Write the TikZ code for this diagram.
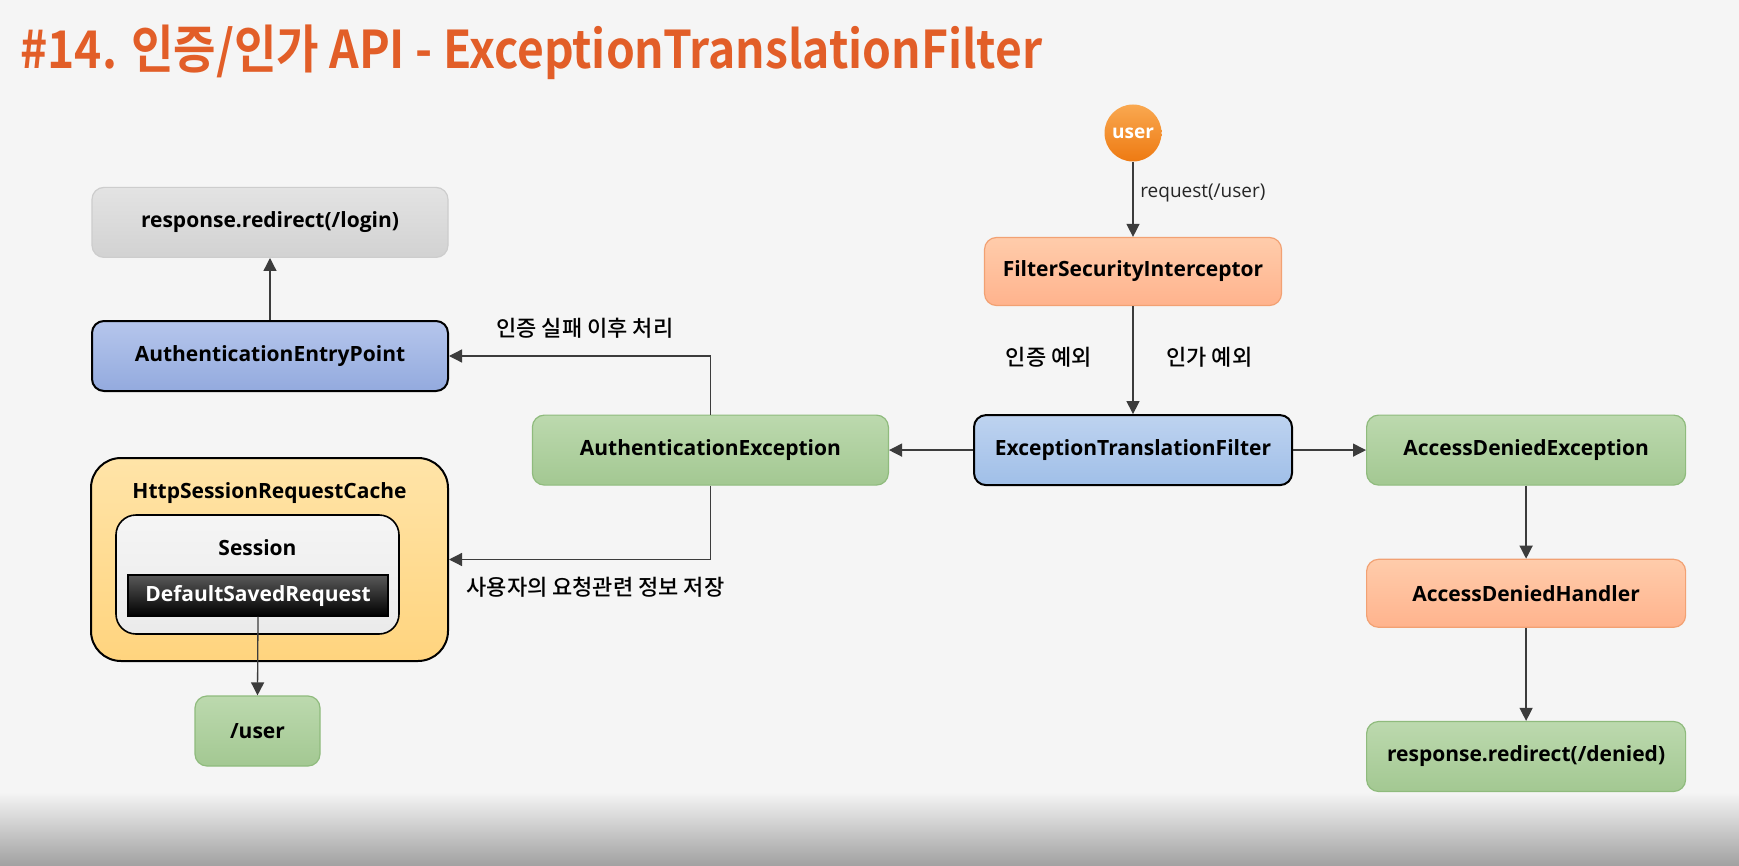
\documentclass[tikz,border=0pt]{standalone}
\usepackage{graphicx}
\usepackage{fontspec}
\setmainfont{Open Sans}
\newfontfamily\krfont{Noto Sans CJK KR}[BoldFont={Noto Sans CJK KR Bold}]
\newfontfamily\krmedium{Noto Sans CJK KR Medium}
\usepackage{xcolor}
\usetikzlibrary{arrows.meta, positioning}

\definecolor{slidebg}{HTML}{F5F5F5}
\definecolor{titleorange}{HTML}{E25E28}
\definecolor{arrowgray}{HTML}{3C3C3C}
\definecolor{greentop}{HTML}{BCD9AE}
\definecolor{greenbot}{HTML}{A3C892}
\definecolor{greenline}{HTML}{8FBB7D}
\definecolor{salmontop}{HTML}{FFCCAB}
\definecolor{salmonbot}{HTML}{FFB38D}
\definecolor{salmonline}{HTML}{F2A173}
\definecolor{bluetop}{HTML}{BED3F0}
\definecolor{bluebot}{HTML}{A0BFE8}
\definecolor{indigotop}{HTML}{B6C6EC}
\definecolor{indigobot}{HTML}{93AADE}
\definecolor{graytop}{HTML}{E3E3E3}
\definecolor{graybot}{HTML}{D2D2D2}
\definecolor{grayline}{HTML}{CDCDCD}
\definecolor{cachetop}{HTML}{FFE4A8}
\definecolor{cachebot}{HTML}{FFD47E}
\definecolor{usertop}{HTML}{F9A850}
\definecolor{userbot}{HTML}{EE7A12}

\begin{document}
\begin{tikzpicture}[
    x=0.5pt, y=-0.5pt,
    box/.style={rectangle, rounded corners=6pt, align=center, text=black, minimum height=35pt, line width=0.6pt, font=\bfseries\fontsize{10.5}{12}\selectfont},
    greenbox/.style={box, draw=greenline, top color=greentop, bottom color=greenbot},
    salmonbox/.style={box, draw=salmonline, top color=salmontop, bottom color=salmonbot, minimum height=34pt},
    filterbox/.style={box, draw=black, line width=1pt, top color=bluetop, bottom color=bluebot},
    entrybox/.style={box, draw=black, line width=1pt, top color=indigotop, bottom color=indigobot},
    graybox/.style={box, draw=grayline, top color=graytop, bottom color=graybot},
    line/.style={draw=arrowgray, line width=0.65pt, -{Triangle[length=6.5pt, width=6.5pt]}},
    lbl/.style={font=\krmedium\fontsize{11}{13}\selectfont, text=black},
    reqlbl/.style={font=\fontsize{9.5}{11}\selectfont, text=black!85}
]

    % Hintergrund
    \useasboundingbox (0,0) rectangle (1739,866);
    \fill[slidebg] (0,0) rectangle (1739,866);
    \shade[top color=slidebg, bottom color=black!37] (0,792) rectangle (1739,866);

    \node[anchor=base west, inner sep=0pt, text=titleorange, font=\krfont\bfseries\fontsize{26}{30}\selectfont] (title) at (20,69)
        {\resizebox{511pt}{\height}{\#14. 인증/인가 API - ExceptionTranslationFilter}};

    % Mitte
    \node[circle, minimum size=28.5pt, inner sep=0pt, top color=usertop, bottom color=userbot, text=white, font=\bfseries\fontsize{9.5}{11}\selectfont] (user) at (1133,133) {user};
    \node[salmonbox, minimum width=148.5pt, below=37.5pt of user] (fsi) {FilterSecurityInterceptor};
    \node[filterbox, minimum width=159pt, below=54pt of fsi] (etf) {ExceptionTranslationFilter};
    \node[greenbox, minimum width=178pt, left=42pt of etf] (authex) {AuthenticationException};

    % Rechte Spalte
    \node[greenbox, minimum width=159.5pt, right=36.5pt of etf] (ade) {AccessDeniedException};
    \node[salmonbox, minimum width=159.5pt, below=36.5pt of ade] (adh) {AccessDeniedHandler};
    \node[greenbox, minimum width=159.5pt, below=46.5pt of adh] (denied) {response.redirect(/denied)};

    % Linke Spalte
    \node[entrybox, minimum width=178pt] (aep) at (270,356) {AuthenticationEntryPoint};
    \node[graybox, minimum width=178pt, above=31pt of aep] (login) {response.redirect(/login)};

    \node[box, draw=black, line width=1pt, rounded corners=15pt, top color=cachetop, bottom color=cachebot, minimum width=178.5pt, minimum height=101.5pt] (cache) at (269.5,559.5) {};
    \node[box, inner sep=0pt] (cachename) at (269.5,493) {HttpSessionRequestCache};
    \node[box, draw=black, line width=0.8pt, rounded corners=10pt, top color=black!4, bottom color=black!8, minimum width=141.5pt, minimum height=59.5pt] (session) at (257.5,574.5) {};
    \node[box, inner sep=0pt] (sessionname) at (257.5,548) {Session};
    \node[box, rounded corners=0pt, draw=black, top color=black!65, bottom color=black, text=white, minimum width=130pt, minimum height=20.5pt] (saved) at (258,595.5) {DefaultSavedRequest};
    \node[greenbox, minimum width=62.5pt] (target) at (257.5,731) {/user};

    % Verbindungen
    \draw[line] (user) -- node[reqlbl, right, pos=0.41] (reqtext) {request(/user)} (fsi);
    \draw[line] (fsi) -- node[lbl, left=17pt, pos=0.47] (authnote) {인증 예외}
                        node[lbl, right=13pt, pos=0.47] (accessnote) {인가 예외} (etf);
    \draw[line] (etf) -- (authex);
    \draw[line] (etf) -- (ade);
    \draw[line] (ade) -- (adh);
    \draw[line] (adh) -- (denied);

    \draw[line] (authex.north) |- node[lbl, above=5pt, pos=0.74] (failnote) {인증 실패 이후 처리} (aep.east);
    \draw[line] (authex.south) |- node[lbl, below=5pt, pos=0.72] (savenote) {사용자의 요청관련 정보 저장} (cache.east);
    \draw[line] (aep) -- (login);
    \draw[line] (saved.south) -- (target.north);

\end{tikzpicture}
\end{document}
